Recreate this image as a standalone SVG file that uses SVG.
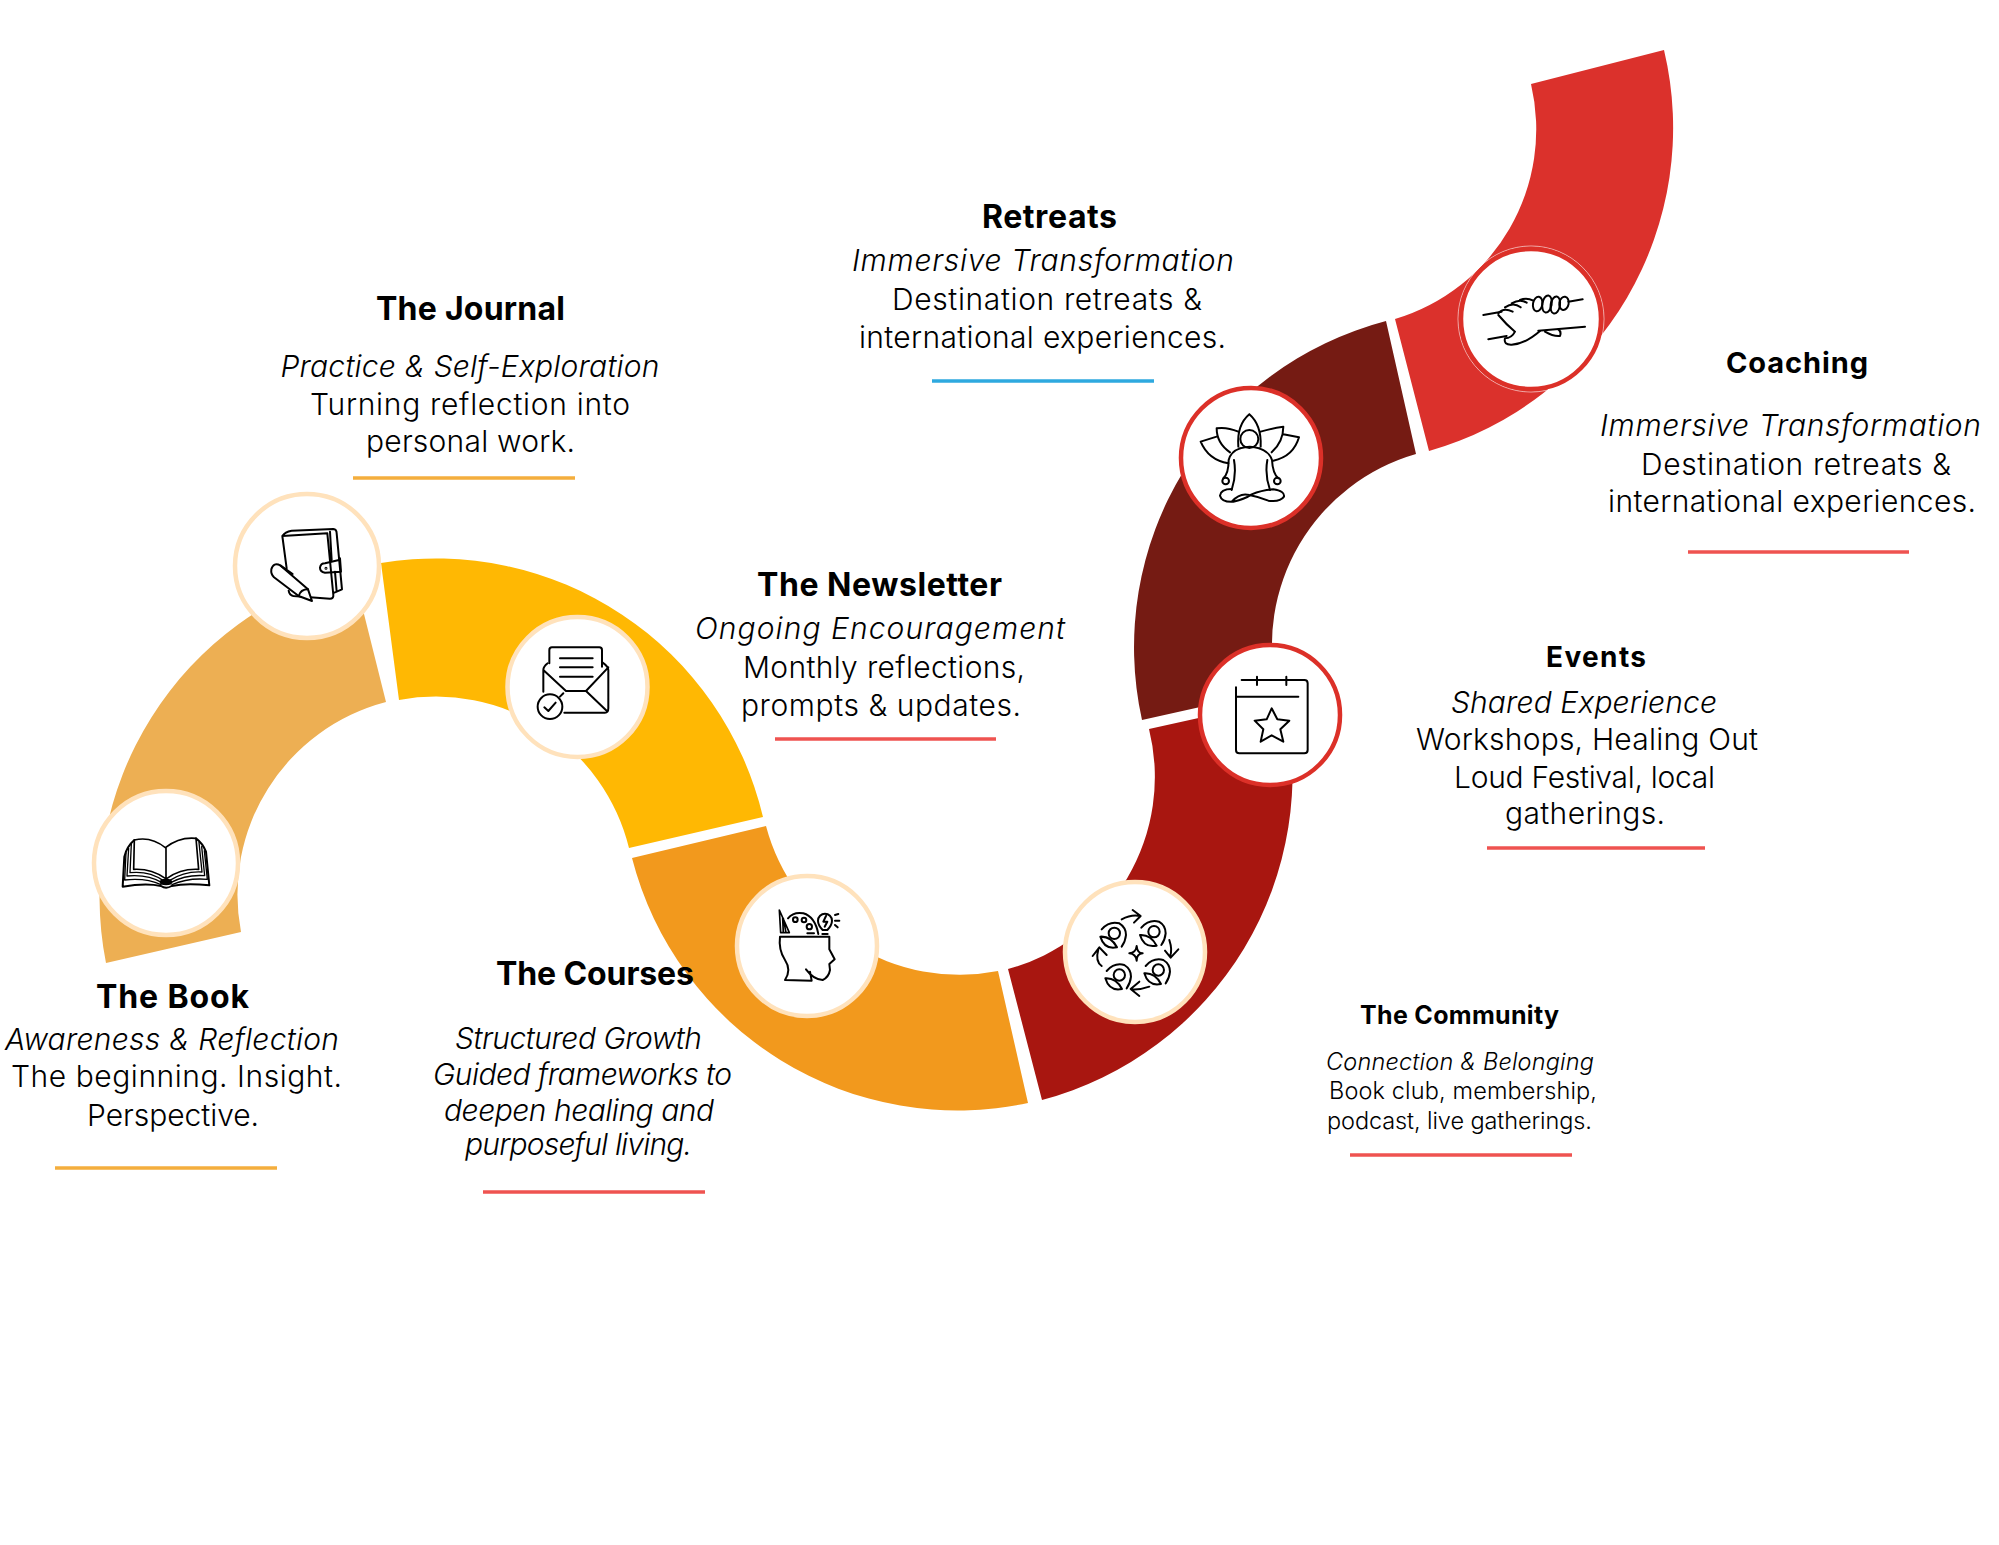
<svg xmlns="http://www.w3.org/2000/svg" xmlns:xlink="http://www.w3.org/1999/xlink" width="1999" height="1545" viewBox="0 0 1999 1545">
<style>
text{font-family:Inter,"Liberation Sans",sans-serif;fill:#000}
.b{font-size:30px;font-weight:300}
.i{font-size:30px;font-weight:300;font-style:italic}
.t{font-size:32px;font-weight:700}
.sb{font-size:23.5px;font-weight:300}
.si{font-size:23.5px;font-weight:300;font-style:italic}
.u{stroke-width:3.5;fill:none}
.pale{fill:#fff;stroke:#FFE2BC;stroke-width:4.5}
.redc{fill:#fff;stroke:#DC3028;stroke-width:4.5}
.ic{fill:none;stroke:#000;stroke-width:6;stroke-linecap:round;stroke-linejoin:round}
</style>
<defs>
<g id="person">
<circle cx="0" cy="0" r="17"/>
<path d="M-42 10Q-10 8 8 42Q-30 50-42 10Z"/>
<path d="M-38-12Q-15-38 15-30Q35-18 35 5Q33 25 22 40"/>
</g>
</defs>
<g id="connectors">
<path fill="#EDAF53" d="M106 963A338 338 0 0 1 353 570L386 702A199 199 0 0 0 241 932Z"/>
<path fill="#FFB803" d="M381 563A336 336 0 0 1 763 817L629 848A199 199 0 0 0 399 700Z"/>
<path fill="#F2991D" d="M632 858A336 336 0 0 0 1028 1103L998 971A200 200 0 0 1 766 826Z"/>
<path fill="#A81610" d="M1042 1100A337 337 0 0 0 1284 699L1149 729A199 199 0 0 1 1008 969Z"/>
<path fill="#751B13" d="M1142 720A337 337 0 0 1 1386 321L1416 454A199 199 0 0 0 1277 690Z"/>
<path fill="#DB312C" d="M1395 319A198 198 0 0 0 1531 84L1664 50A336 336 0 0 1 1429 451Z"/>
</g>
<g id="book">
<circle class="pale" cx="166" cy="863" r="72"/>
<g transform="translate(106 810) scale(.3333)" class="ic">
<path d="M85 90Q135 78 178 113Q220 80 270 85L278 178Q225 175 183 205M85 90L83 178Q135 175 178 205M180 113V205" stroke-width="5"/>
<path stroke-width="4" d="M76 102L72 188Q130 182 172 212M68 115L63 198Q125 192 168 218M60 128L56 210Q120 203 165 224M279 97L288 186Q235 183 190 212M287 110L296 197Q240 193 194 218M295 122L304 208Q245 203 198 224"/>
<path stroke-width="6" d="M85 90Q62 110 55 140L50 230Q120 218 165 228Q180 238 197 228Q240 218 310 226L300 125Q290 100 270 85"/>
<ellipse cx="180" cy="216" rx="16" ry="7" fill="#000"/>
</g>
<text class="t" x="96" y="1008" textLength="153">The Book</text>
<text class="i" x="5" y="1050" textLength="334">Awareness &amp; Reflection</text>
<text class="b" x="11" y="1087" textLength="331">The beginning. Insight.</text>
<text class="b" x="87" y="1126" textLength="172">Perspective.</text>
<path class="u" stroke="#F4AE3D" d="M55 1168H277"/>
</g>
<g id="journal">
<circle class="pale" cx="307" cy="566" r="72"/>
<g transform="translate(240 500) scale(.3333)" class="ic" stroke-width="5">
<path d="M127 108L140 205M127 108Q135 95 155 92L280 87Q290 88 290 100L306 268L283 278M127 108L262 100L280 285Q281 296 270 296L160 288Q148 286 146 272M270 95L275 180M285 215L290 275"/>
<path d="M300 175L303 215L255 218Q240 215 240 203Q242 190 255 190L297 180"/>
<circle cx="258" cy="205" r="1.500"/>
<path fill="#fff" d="M122 197Q100 185 94 208Q92 222 102 232L176 288L216 303L204 268Z"/>
<path d="M176 288Q182 268 204 268M122 197L158 222"/>
</g>
<text class="t" x="376" y="320" textLength="189">The Journal</text>
<text class="i" x="280.500" y="377" textLength="379">Practice &amp; Self-Exploration</text>
<text class="b" x="310" y="415" textLength="320">Turning reflection into</text>
<text class="b" x="366" y="452" textLength="209">personal work.</text>
<path class="u" stroke="#F4AE3D" d="M353 478H575"/>
</g>
<g id="newsletter">
<circle class="pale" cx="577.500" cy="687" r="70"/>
<g transform="translate(510 610) scale(.3333)" class="ic">
<path d="M118 160V120Q118 112 126 112H268Q276 112 276 120V170M150 145H248M150 172H248M150 200H248"/>
<path d="M113 160Q100 170 100 180V245M278 158Q295 170 295 180V295Q295 308 285 308H163M100 180L168 243H228L295 172M228 243L290 302M150 260L160 250"/>
<circle cx="120" cy="290" r="37"/>
<path d="M103 292L115 303L137 278"/>
</g>
<text class="t" x="757" y="596" textLength="245">The Newsletter</text>
<text class="i" x="695" y="639" textLength="370">Ongoing Encouragement</text>
<text class="b" x="743" y="678" textLength="282">Monthly reflections,</text>
<text class="b" x="741" y="716" textLength="280">prompts &amp; updates.</text>
<path class="u" stroke="#EF5350" d="M775 739H996"/>
</g>
<g id="courses">
<circle class="pale" cx="807" cy="946" r="70"/>
<g transform="translate(750 890) scale(.3333)" class="ic">
<path d="M90 140H238V178L254 208L238 222L240 240Q236 262 218 270Q190 268 168 238M180 245L185 272L105 270Q125 240 105 210Q85 180 90 140"/>
<path d="M92 128L88 60L118 128ZM100 128L98 85M108 128L100 85" stroke-width="5"/>
<path d="M114 85Q130 65 160 70Q195 80 205 132M172 130H192"/>
<circle cx="136" cy="89" r="7"/><circle cx="162" cy="90" r="7"/><circle cx="178" cy="110" r="8"/>
<path d="M218 120Q204 105 204 92A21 21 0 0 1 246 92Q246 105 232 120ZM217 132H233M228 78L220 95H232L224 110M255 75L265 72M255 92H268M255 105L263 112"/>
</g>
<text class="t" x="496" y="985" textLength="198">The Courses</text>
<text class="i" x="455" y="1049" textLength="247">Structured Growth</text>
<text class="i" x="433" y="1085" textLength="299">Guided frameworks to</text>
<text class="i" x="444" y="1121" textLength="270">deepen healing and</text>
<text class="i" x="465" y="1155" textLength="227">purposeful living.</text>
<path class="u" stroke="#EF5350" d="M483 1192H705"/>
</g>
<g id="community">
<circle class="pale" cx="1135" cy="952" r="70"/>
<g transform="translate(1080 890) scale(.3333)" class="ic">
<use xlink:href="#person" href="#person" transform="translate(103 130)"/>
<use xlink:href="#person" href="#person" transform="translate(222 125)"/>
<use xlink:href="#person" href="#person" transform="translate(235 240)"/>
<use xlink:href="#person" href="#person" transform="translate(118 255)"/>
<path d="M125 88Q155 72 180 78M158 60L182 78L162 98M268 150Q278 180 270 200M255 182L272 203L295 178M208 290Q180 300 155 298M178 318L152 297L178 275M65 228Q45 215 55 178M38 198L58 172L80 195"/>
<path d="M170 168Q172 190 188 190Q170 192 170 212Q168 192 148 190Q168 188 170 168Z"/>
</g>
<text class="t" x="1360" y="1024" textLength="199" style="font-size:25px">The Community</text>
<text class="si" x="1326" y="1070" textLength="268">Connection &amp; Belonging</text>
<text class="sb" x="1329" y="1099" textLength="268">Book club, membership,</text>
<text class="sb" x="1327" y="1129" textLength="265">podcast, live gatherings.</text>
<path class="u" stroke="#EF5350" d="M1350 1155H1572"/>
</g>
<g id="events">
<circle class="redc" cx="1270" cy="715" r="70"/>
<g transform="translate(1210 660) scale(.3333)" class="ic">
<path d="M78 82V270Q78 280 88 280H283Q293 280 293 270V70Q293 60 283 60H95M80 110H265M141 50V75M229 50V75"/>
<path d="M185 145L202 178L238 182L211 208L220 245L185 226L152 245L160 208L134 182L170 178Z"/>
</g>
<text class="t" x="1546" y="667" textLength="100" style="font-size:28px">Events</text>
<text class="i" x="1451" y="713" textLength="266">Shared Experience</text>
<text class="b" x="1416" y="750" textLength="342">Workshops, Healing Out</text>
<text class="b" x="1454" y="788" textLength="261">Loud Festival, local</text>
<text class="b" x="1505" y="824" textLength="160">gatherings.</text>
<path class="u" stroke="#EF5350" d="M1487 848H1705"/>
</g>
<g id="retreats">
<circle class="redc" cx="1251" cy="458" r="70"/>
<g transform="translate(1190 395) scale(.3333)" class="ic">
<path d="M178 58Q140 90 145 155M178 58Q215 90 212 155"/>
<circle cx="178" cy="132" r="27"/>
<path d="M145 110Q110 95 80 100Q80 145 120 172M212 110Q245 100 280 95Q280 140 245 172M80 125L32 140Q55 195 115 205M280 118L327 127Q310 185 250 197"/>
<path d="M150 160Q122 170 116 195Q116 235 100 250M208 160Q238 170 246 195Q248 235 265 250M132 195Q140 240 125 285M232 195Q224 240 240 285"/>
<circle cx="107" cy="258" r="10"/><circle cx="262" cy="258" r="10"/>
<path d="M125 282Q92 282 90 302Q95 322 130 320Q165 312 185 298Q215 285 250 283Q285 288 282 305Q270 322 235 317Q205 305 178 300Q150 292 125 320"/>
<path d="M150 160Q180 150 208 160"/>
</g>
<text class="t" x="982" y="228" textLength="135">Retreats</text>
<text class="i" x="852" y="271" textLength="382">Immersive Transformation</text>
<text class="b" x="892" y="310" textLength="310">Destination retreats &amp;</text>
<text class="b" x="859" y="348" textLength="367">international experiences.</text>
<path class="u" stroke="#2EA9DF" d="M932 381H1154"/>
</g>
<g id="coaching">
<circle cx="1531" cy="319" r="73" fill="none" stroke="#fff" stroke-opacity=".6" stroke-width="1"/>
<circle class="redc" cx="1531" cy="319" r="70"/>
<g transform="translate(1470 270) scale(.3333)" class="ic">
<path d="M40 135L95 125M55 208L110 198M205 182L345 170M295 95L338 88"/>
<path d="M85 130Q100 112 128 125M105 112Q130 95 152 112M125 100Q150 85 170 98M150 90Q170 82 190 92"/>
<ellipse cx="203" cy="102" rx="14" ry="22" transform="rotate(10 203 102)"/>
<ellipse cx="231" cy="102" rx="14" ry="26" transform="rotate(10 231 102)"/>
<ellipse cx="256" cy="105" rx="14" ry="26" transform="rotate(10 256 105)"/>
<ellipse cx="282" cy="100" rx="14" ry="20" transform="rotate(10 282 100)"/>
<path d="M85 135Q110 165 135 185Q125 205 105 205Q100 225 125 224Q165 222 210 183M225 185Q250 200 270 198Q275 185 265 178"/>
</g>
<text class="t" x="1726" y="373" textLength="142" style="font-size:29px">Coaching</text>
<text class="i" x="1600" y="436" textLength="381">Immersive Transformation</text>
<text class="b" x="1641" y="475" textLength="310">Destination retreats &amp;</text>
<text class="b" x="1608" y="512" textLength="368">international experiences.</text>
<path class="u" stroke="#EF5350" d="M1688 552H1909"/>
</g>
</svg>
